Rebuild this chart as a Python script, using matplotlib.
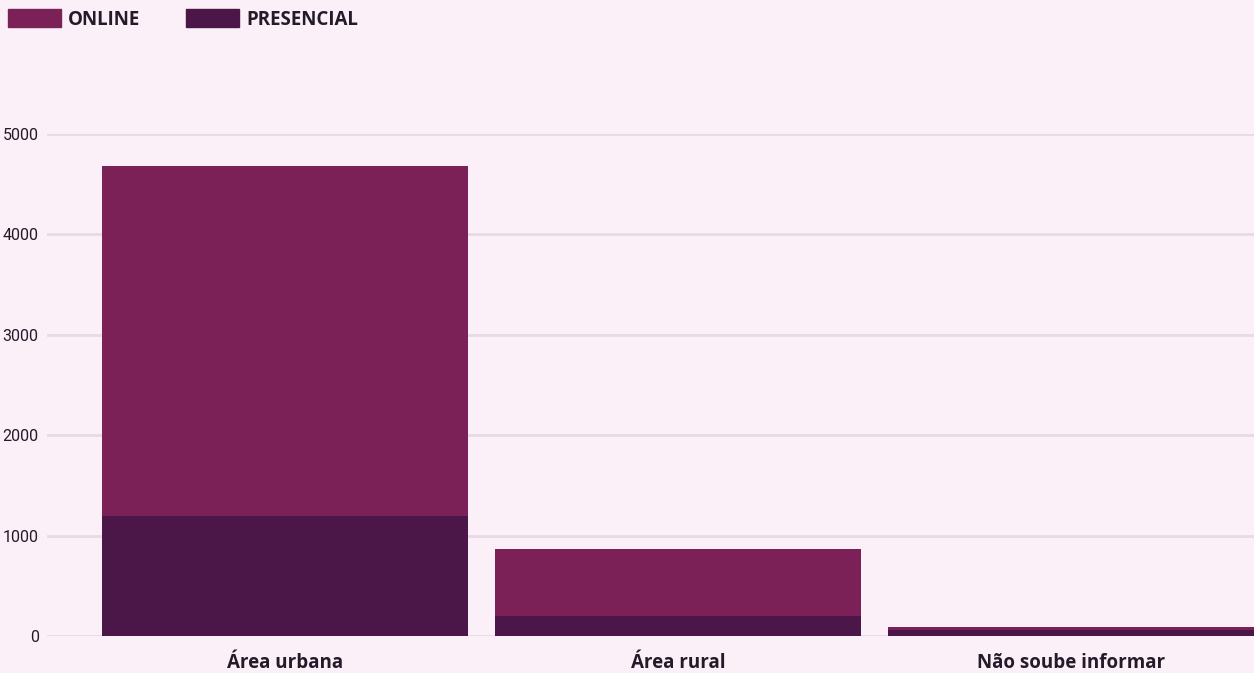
import matplotlib.pyplot as plt
from matplotlib.patches import Rectangle

# Atendimentos por localização
categorias = ["Área urbana", "Área rural", "Não soube informar"]
presencial = [1195, 199, 58]
online = [3485, 667, 27]
series = ["ONLINE", "PRESENCIAL"]
yticks = [0, 1000, 2000, 3000, 4000, 5000]

cor_online = "#7b2157"
cor_presencial = "#4a1748"
fundo = "#fbf0f7"
grade = "#ead9e4"
texto = "#231a2a"

W, H = 1254, 673
fig = plt.figure(figsize=(W / 100, H / 100), dpi=100, facecolor=fundo)
ax = fig.add_axes([47 / W, (H - 636) / H, 1 - 47 / W, (636 - 134) / H])
ax.set_facecolor(fundo)

x = range(len(categorias))
ax.bar(x, presencial, width=0.93, color=cor_presencial, zorder=3)
ax.bar(x, online, bottom=presencial, width=0.93, color=cor_online, zorder=3)

ax.set_xlim(-0.605, 2.466)
ax.set_ylim(0, 5000)
ax.set_yticks(yticks)
ax.set_yticklabels([str(v) for v in yticks], family="Roboto", fontsize=11.5, color=texto)
ax.set_xticks(list(x))
ax.set_xticklabels(categorias, family="Open Sans", fontweight="bold", fontsize=13.5, color=texto)
ax.tick_params(axis="y", length=0, pad=6)
ax.tick_params(axis="x", length=0, pad=12)
ax.grid(axis="y", color=grade, linewidth=2, zorder=0)
ax.set_axisbelow(True)
for s in ax.spines.values():
    s.set_visible(False)

# legenda manual no topo
for x0, cor, nome in [(8, cor_online, series[0]), (186, cor_presencial, series[1])]:
    fig.patches.append(Rectangle((x0 / W, 1 - 27 / H), 53 / W, 18 / H,
                                 transform=fig.transFigure, color=cor))
    fig.text((x0 + 60) / W, 1 - 20 / H, nome, family="Open Sans", fontweight="bold",
             fontsize=13.5, color=texto, va="center", ha="left")

fig.savefig("out.png", dpi=100, facecolor=fundo)
